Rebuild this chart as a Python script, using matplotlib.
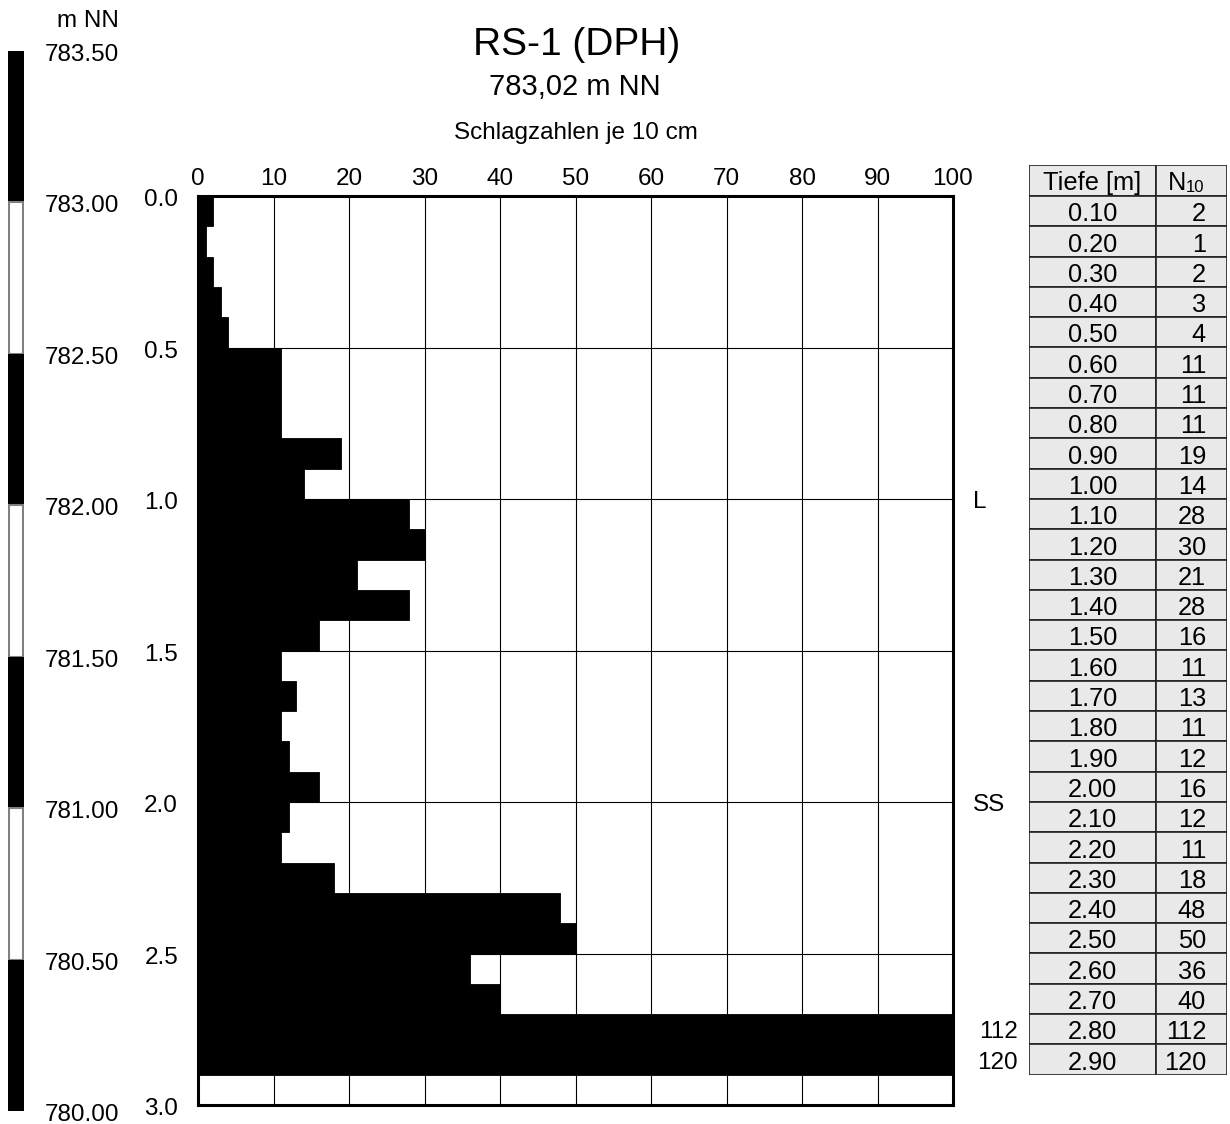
import matplotlib
matplotlib.use("Agg")
import matplotlib.pyplot as plt
from matplotlib.patches import Rectangle
from matplotlib.transforms import ScaledTranslation, blended_transform_factory

plt.rcParams['font.family'] = ['Liberation Sans', 'DejaVu Sans']

# ---------------- data ----------------
title = "RS-1 (DPH)"
subtitle = "783,02 m NN"
xlabel = "Schlagzahlen je 10 cm"
ground_elev = 783.02
depth_bottom = [0.10, 0.20, 0.30, 0.40, 0.50, 0.60, 0.70, 0.80, 0.90, 1.00,
                1.10, 1.20, 1.30, 1.40, 1.50, 1.60, 1.70, 1.80, 1.90, 2.00,
                2.10, 2.20, 2.30, 2.40, 2.50, 2.60, 2.70, 2.80, 2.90]
n10 = [2, 1, 2, 3, 4, 11, 11, 11, 19, 14,
       28, 30, 21, 28, 16, 11, 13, 11, 12, 16,
       12, 11, 18, 48, 50, 36, 40, 112, 120]
x_ticks = [0, 10, 20, 30, 40, 50, 60, 70, 80, 90, 100]
depth_ticks = [0.0, 0.5, 1.0, 1.5, 2.0, 2.5, 3.0]
elev_ticks = [783.50, 783.00, 782.50, 782.00, 781.50, 781.00, 780.50, 780.00]
layer_labels = ["L", "SS"]
layer_depths = [1.0, 2.0]
x_max = 100
depth_max = 3.0

# ---------------- layout helpers ----------------
W, H = 1230, 1124
DPI = 100
fig = plt.figure(figsize=(W / DPI, H / DPI), dpi=DPI)

y0_px = 196.0               # pixel row of depth 0
ppm = (1105 - 196) / 3.0    # pixels per metre


def dy(d):
    return y0_px + d * ppm


def add_ax(x0, x1, d_top, d_bot):
    top = dy(d_top)
    bot = dy(d_bot)
    ax = fig.add_axes([x0 / W, 1 - bot / H, (x1 - x0) / W, (bot - top) / H])
    ax.set_ylim(d_bot, d_top)
    return ax


def ctext(ax, x, y, s, fs, ha='center', transform=None, extra_px=1.0):
    """Text whose cap height is vertically centred on y."""
    if transform is None:
        transform = ax.transData
    shift_pt = -(0.358 * fs + extra_px * 72 / DPI)
    tr = transform + ScaledTranslation(0, shift_pt / 72, fig.dpi_scale_trans)
    return ax.text(x, y, s, fontsize=fs, ha=ha, va='baseline',
                   transform=tr, clip_on=False)


FS = 17.5
TFS = 18.3

# ---------------- main chart ----------------
ax = add_ax(198, 953, 0.0, depth_max)
ax.set_xlim(0, x_max)
tops = [d - 0.1 for d in depth_bottom]
ax.barh(tops, n10, height=0.1, align='edge', color='black',
        edgecolor='black', linewidth=0.6, zorder=2)
ax.set_xticks(x_ticks)
ax.set_yticks(depth_ticks)
ax.tick_params(axis='both', length=0, labelleft=False, labelbottom=False,
               labeltop=False)
ax.grid(True, color='black', linewidth=0.8, zorder=1)
ax.set_axisbelow(True)
for s in ax.spines.values():
    s.set_linewidth(2.2)
    s.set_zorder(5)

# tick labels
bt_xdata = blended_transform_factory(ax.transData, ax.transAxes)
for xt in x_ticks:
    ctext(ax, xt, 1.0, str(xt), FS, ha='center', transform=bt_xdata,
          extra_px=-20)
bt_ydata = blended_transform_factory(ax.transAxes, ax.transData)
for d in depth_ticks:
    ctext(ax, (178 - 198) / 755, d, f"{d:.1f}", FS, ha='right',
          transform=bt_ydata, extra_px=1.5)

# layer labels and out-of-range values
for lab, d in zip(layer_labels, layer_depths):
    ctext(ax, 102.6, d, lab, FS, ha='left', extra_px=0)
for d, v in zip(depth_bottom, n10):
    if v > x_max:
        ctext(ax, 108.6, d - 0.05, str(v), FS, ha='right', extra_px=0.5)

# titles
fig.text(577 / W, 1 - 55 / H, title, fontsize=28, ha='center', va='baseline')
fig.text(575 / W, 1 - 95 / H, subtitle, fontsize=21, ha='center', va='baseline')
fig.text(576 / W, 1 - 139 / H, xlabel, fontsize=17.5, ha='center',
         va='baseline')

# ---------------- elevation bar ----------------
d_top = ground_elev - elev_ticks[0]
d_bot = ground_elev - elev_ticks[-1]
axl = add_ax(8, 24, d_top, d_bot)
axl.set_xlim(0, 1)
axl.axis('off')
for i in range(len(elev_ticks) - 1):
    a = ground_elev - elev_ticks[i]
    b = ground_elev - elev_ticks[i + 1]
    if i % 2 == 0:
        axl.add_patch(Rectangle((0, a), 1, b - a, facecolor='black',
                                edgecolor='black', linewidth=0))
    else:
        axl.add_patch(Rectangle((0.05, a), 0.9, b - a, facecolor='white',
                                edgecolor='#808080', linewidth=1.5))
for e in elev_ticks:
    ctext(axl, (119 - 8) / 16, ground_elev - e, f"{e:.2f}", FS, ha='right',
          extra_px=1.5)
ctext(axl, (119 - 8) / 16, ground_elev - elev_ticks[0] - 0.105, "m NN", FS,
      ha='right', extra_px=0)

# ---------------- table ----------------
hdr = -0.101
axt = add_ax(1029, 1227, hdr, depth_bottom[-1])
axt.set_xlim(1029, 1227)
axt.axis('off')
xdiv = 1156
lc = '#222222'
fill = '#e9e9e9'
axt.add_patch(Rectangle((1029, hdr), xdiv - 1029, -hdr, facecolor=fill,
                        edgecolor=lc, linewidth=1.2))
axt.add_patch(Rectangle((xdiv, hdr), 1227 - xdiv, -hdr, facecolor=fill,
                        edgecolor=lc, linewidth=1.2))
ctext(axt, (1029 + xdiv) / 2, hdr / 2, "Tiefe [m]", TFS, ha='center',
      extra_px=0.5)
ctext(axt, 1168, hdr / 2, "N", TFS, ha='left', extra_px=0.5)
ctext(axt, 1186, hdr / 2, "10", 12, ha='left', extra_px=5.5)
for d, v in zip(depth_bottom, n10):
    t = d - 0.1
    axt.add_patch(Rectangle((1029, t), xdiv - 1029, 0.1, facecolor=fill,
                            edgecolor=lc, linewidth=1.2))
    axt.add_patch(Rectangle((xdiv, t), 1227 - xdiv, 0.1, facecolor=fill,
                            edgecolor=lc, linewidth=1.2))
    ctext(axt, (1029 + xdiv) / 2, t + 0.05, f"{d:.2f}", TFS, ha='center',
          extra_px=1.0)
    ctext(axt, 1206, t + 0.05, str(v), TFS, ha='right', extra_px=1.0)

fig.savefig("out.png", dpi=DPI)
